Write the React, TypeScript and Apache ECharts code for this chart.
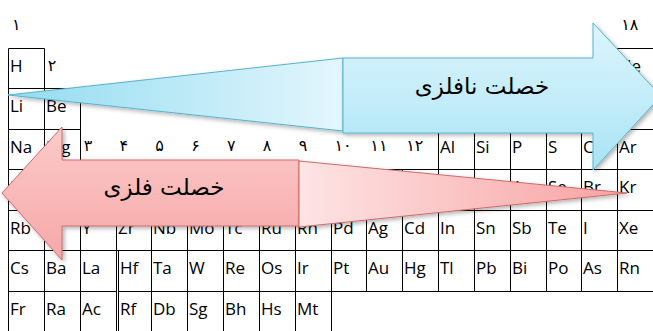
import { useEffect, useRef } from "react";
import * as echarts from "echarts";

// Periodic table rows (empty string = no cell)
const period1 = ["H", "", "", "", "", "", "", "", "", "", "", "", "", "", "", "", "", "He"];
const period2 = ["Li", "Be", "", "", "", "", "", "", "", "", "", "", "B", "C", "N", "O", "F", "Ne"];
const period3 = ["Na", "Mg", "", "", "", "", "", "", "", "", "", "", "Al", "Si", "P", "S", "Cl", "Ar"];
const period4 = ["K", "Ca", "Sc", "Ti", "V", "Cr", "Mn", "Fe", "Co", "Ni", "Cu", "Zn", "Ga", "Ge", "As", "Se", "Br", "Kr"];
const period5 = ["Rb", "Sr", "Y", "Zr", "Nb", "Mo", "Tc", "Ru", "Rh", "Pd", "Ag", "Cd", "In", "Sn", "Sb", "Te", "I", "Xe"];
const period6 = ["Cs", "Ba", "La", "Hf", "Ta", "W", "Re", "Os", "Ir", "Pt", "Au", "Hg", "Tl", "Pb", "Bi", "Po", "As", "Rn"];
const period7 = ["Fr", "Ra", "Ac", "Rf", "Db", "Sg", "Bh", "Hs", "Mt"];
const periods = [period1, period2, period3, period4, period5, period6, period7];

// Group numbers shown (Persian digits) and the column each belongs to
const groupLabels = ["۱", "۲", "۳", "۴", "۵", "۶", "۷", "۸", "۹", "۱۰", "۱۱", "۱۲", "۱۸"];
const groupColumns = [0, 1, 2, 3, 4, 5, 6, 7, 8, 9, 10, 11, 17];

const arrowLabels = ["خصلت نافلزی", "خصلت فلزی"];

// Build cell list
const cells: { col: number; row: number; sym: string }[] = [];
periods.forEach((p, r) => p.forEach((s, c) => { if (s) cells.push({ col: c, row: r, sym: s }); }));

// Group label sits in the empty slot just above the topmost element of its column
const groupItems = groupColumns.map((c, i) => {
  let top = 0;
  while (top < periods.length && !periods[top][c]) top++;
  return { col: c, row: top - 1, label: groupLabels[i] };
});

export default function App() {
  const ref = useRef<HTMLDivElement>(null);
  useEffect(() => {
    if (!ref.current) return;
    const chart = echarts.init(ref.current, null, { renderer: "svg" });

    const shadow = { shadowBlur: 4, shadowOffsetX: 2, shadowOffsetY: 2, shadowColor: "rgba(0,0,0,0.3)" };

    chart.setOption({
      animation: false,
      backgroundColor: "#ffffff",
      grid: { left: 8, top: 48, width: 649.8, height: 288.4 },
      xAxis: { type: "value", min: 0, max: 18, show: false },
      yAxis: { type: "value", min: 0, max: 7, inverse: true, show: false },
      series: [
        {
          type: "custom",
          data: cells.map((c) => [c.col, c.row]),
          renderItem: (params: any, api: any) => {
            const col = api.value(0);
            const row = api.value(1);
            const sym = cells[params.dataIndex].sym;
            const p0 = api.coord([col, row]);
            const p1 = api.coord([col + 1, row + 1]);
            let x0 = Math.round(p0[0]) + 0.5;
            const x1 = Math.round(p1[0]) + 0.5;
            const y0 = Math.round(p0[1]) + 0.5;
            const y1 = Math.round(p1[1]) + 0.5;
            if (row >= 5 && col === 3) x0 += 2;
            return {
              type: "group",
              children: [
                {
                  type: "rect",
                  shape: { x: x0, y: y0, width: x1 - x0, height: y1 - y0 },
                  style: { fill: "none", stroke: "#000", lineWidth: 1 },
                },
                {
                  type: "text",
                  style: {
                    text: sym,
                    x: x0 + 1.5,
                    y: y0 + 17,
                    align: "left",
                    verticalAlign: "middle",
                    fontSize: 17,
                    fontFamily: "Open Sans",
                    fill: "#000",
                  },
                },
              ],
            };
          },
        },
        {
          type: "custom",
          data: groupItems.map((g) => [g.col, g.row]),
          renderItem: (params: any, api: any) => {
            const p0 = api.coord([api.value(0), api.value(1)]);
            return {
              type: "text",
              style: {
                text: groupItems[params.dataIndex].label,
                x: p0[0] + 4,
                y: p0[1] + 17,
                align: "left",
                verticalAlign: "middle",
                fontSize: 16,
                fontFamily: "DejaVu Sans",
                fill: "#000",
              },
            };
          },
        },
      ],
      graphic: [
        {
          type: "polygon",
          z: 100,
          shape: { points: [[2, 193], [62, 127], [62, 160], [299, 160], [299, 226], [62, 226], [62, 260]] },
          style: {
            fill: new echarts.graphic.LinearGradient(0, 0, 0, 1, [
              { offset: 0, color: "#fccaca" },
              { offset: 1, color: "#f6a8a8" },
            ]),
            stroke: "#cf6b6b",
            lineWidth: 1,
            ...shadow,
          },
        },
        {
          type: "polygon",
          z: 100,
          shape: { points: [[299, 161], [627, 193], [299, 227]] },
          style: {
            fill: new echarts.graphic.LinearGradient(0, 0, 1, 0, [
              { offset: 0, color: "#fde4e4" },
              { offset: 1, color: "#f8a2a2" },
            ]),
            stroke: "#cf6b6b",
            lineWidth: 1,
            ...shadow,
          },
        },
        {
          type: "polygon",
          z: 101,
          shape: { points: [[8, 95], [343, 58], [343, 131]] },
          style: {
            fill: new echarts.graphic.LinearGradient(0, 0, 1, 0, [
              { offset: 0, color: "#92dcf0" },
              { offset: 1, color: "#e3f6fd" },
            ]),
            stroke: "#56b4cf",
            lineWidth: 1,
            ...shadow,
          },
        },
        {
          type: "polygon",
          z: 101,
          shape: { points: [[343, 58], [593, 58], [593, 23], [661, 96], [593, 170], [593, 133], [343, 133]] },
          style: {
            fill: new echarts.graphic.LinearGradient(0, 0, 0, 1, [
              { offset: 0, color: "#dcf5fd" },
              { offset: 0.5, color: "#c4edf9" },
              { offset: 1, color: "#a8e3f5" },
            ]),
            stroke: "#56b4cf",
            lineWidth: 1,
            ...shadow,
          },
        },
        {
          type: "text",
          z: 102,
          style: {
            text: arrowLabels[0],
            x: 482,
            y: 86,
            align: "center",
            verticalAlign: "middle",
            fontSize: 23,
            fontFamily: "DejaVu Sans",
            fill: "#000",
          },
        },
        {
          type: "text",
          z: 102,
          style: {
            text: arrowLabels[1],
            x: 164,
            y: 187,
            align: "center",
            verticalAlign: "middle",
            fontSize: 23,
            fontFamily: "DejaVu Sans",
            fill: "#000",
          },
        },
      ],
    });
    return () => chart.dispose();
  }, []);
  return <div ref={ref} style={{ position: "fixed", left: 0, top: 0, width: 653, height: 331 }} />;
}
